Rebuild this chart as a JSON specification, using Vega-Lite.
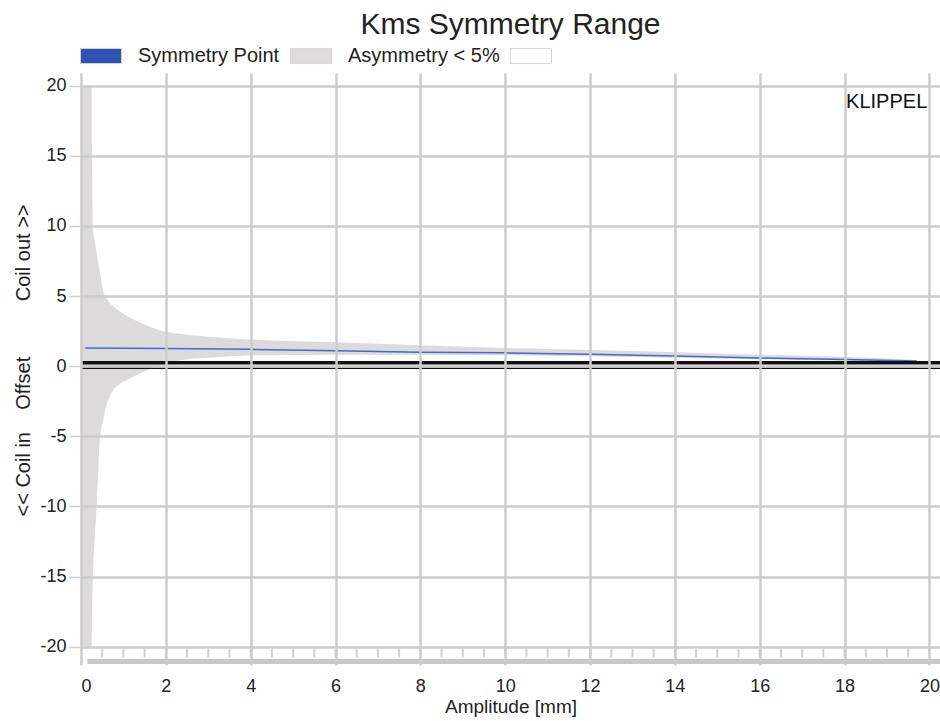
{
  "$schema": "https://vega.github.io/schema/vega-lite/v6.json",
  "width": 859,
  "height": 592,
  "autosize": {"type": "none"},
  "padding": {"left": 81, "top": 73, "right": 0, "bottom": 56},
  "background": "white",
  "config": {
    "font": "Liberation Sans",
    "view": {"stroke": null},
    "axis": {"labelFont": "Liberation Sans", "titleFont": "Liberation Sans"}
  },
  "title": {
    "text": "Kms Symmetry Range",
    "fontSize": 30,
    "fontWeight": "normal",
    "color": "#222222",
    "font": "Liberation Sans",
    "anchor": "middle",
    "offset": -5
  },
  "datasets": {
    "band": [
      {"x": 0.03, "hi": 20, "lo": -20},
      {"x": 0.25, "hi": 20, "lo": -20},
      {"x": 0.26, "hi": 15, "lo": -17.5},
      {"x": 0.28, "hi": 10, "lo": -15},
      {"x": 0.32, "hi": 9, "lo": -12.5},
      {"x": 0.37, "hi": 8, "lo": -10},
      {"x": 0.45, "hi": 6.6, "lo": -5},
      {"x": 0.52, "hi": 5.4, "lo": -3.9},
      {"x": 0.6, "hi": 4.85, "lo": -2.8},
      {"x": 0.75, "hi": 4.3, "lo": -1.75},
      {"x": 0.92, "hi": 3.9, "lo": -1.25},
      {"x": 1.1, "hi": 3.55, "lo": -0.95},
      {"x": 1.4, "hi": 3.1, "lo": -0.5},
      {"x": 1.7, "hi": 2.72, "lo": -0.12},
      {"x": 2.0, "hi": 2.45, "lo": 0.2},
      {"x": 2.5, "hi": 2.25, "lo": 0.5},
      {"x": 3.0, "hi": 2.1, "lo": 0.6},
      {"x": 4.2, "hi": 1.86, "lo": 0.78},
      {"x": 6, "hi": 1.7, "lo": 0.82},
      {"x": 8, "hi": 1.5, "lo": 0.82},
      {"x": 10, "hi": 1.3, "lo": 0.78},
      {"x": 12, "hi": 1.15, "lo": 0.7},
      {"x": 14, "hi": 1.0, "lo": 0.6},
      {"x": 16, "hi": 0.82, "lo": 0.5},
      {"x": 18, "hi": 0.65, "lo": 0.4},
      {"x": 19.7, "hi": 0.45, "lo": 0.3}
    ],
    "sym": [
      {"x": 0.1, "y": 1.3},
      {"x": 2, "y": 1.27},
      {"x": 4, "y": 1.2},
      {"x": 6, "y": 1.1},
      {"x": 8, "y": 1.0},
      {"x": 10, "y": 0.95},
      {"x": 12, "y": 0.85},
      {"x": 14, "y": 0.72},
      {"x": 16, "y": 0.58},
      {"x": 18, "y": 0.48},
      {"x": 19.7, "y": 0.37}
    ],
    "zero": [
      {"x0": 0, "x1": 20.25, "y": 0.25, "w": "thick"},
      {"x0": 0, "x1": 20.25, "y": -0.14, "w": "thin"}
    ],
    "strip": [
      {"x": 0.5}, {"x": 1}, {"x": 1.5}, {"x": 2}, {"x": 2.5}, {"x": 3}, {"x": 3.5}, {"x": 4},
      {"x": 4.5}, {"x": 5}, {"x": 5.5}, {"x": 6}, {"x": 6.5}, {"x": 7}, {"x": 7.5}, {"x": 8},
      {"x": 8.5}, {"x": 9}, {"x": 9.5}, {"x": 10}, {"x": 10.5}, {"x": 11}, {"x": 11.5}, {"x": 12},
      {"x": 12.5}, {"x": 13}, {"x": 13.5}, {"x": 14}, {"x": 14.5}, {"x": 15}, {"x": 15.5}, {"x": 16},
      {"x": 16.5}, {"x": 17}, {"x": 17.5}, {"x": 18}, {"x": 18.5}, {"x": 19}, {"x": 19.5}, {"x": 20}
    ],
    "bar": [{"x0": 0.15, "x1": 20.25, "y": -21.05}],
    "brand": [{"x": 19.95, "y": 18.8, "label": "KLIPPEL"}]
  },
  "layer": [
    {
      "data": {"name": "band"},
      "mark": {"type": "area", "opacity": 1, "interpolate": "monotone"},
      "encoding": {
        "x": {
          "field": "x", "type": "quantitative",
          "scale": {"domain": [0, 20.25], "nice": false, "zero": false},
          "axis": {
            "values": [0, 2, 4, 6, 8, 10, 12, 14, 16, 18, 20],
            "grid": true, "gridColor": "#cccccc", "gridWidth": 2.5,
            "domain": false, "ticks": false, "tickSize": 0,
            "labelFontSize": 18, "labelColor": "#222222", "labelPadding": 12,
            "labelExpr": "toString(datum.value)",
            "title": "Amplitude [mm]", "titleFontSize": 19, "titleFontWeight": "normal",
            "titleColor": "#222222", "titlePadding": 2, "zindex": 1
          }
        },
        "y": {
          "field": "hi", "type": "quantitative",
          "scale": {"domain": [-21.3, 20.9], "nice": false, "zero": false},
          "axis": {
            "values": [-20, -15, -10, -5, 0, 5, 10, 15, 20],
            "grid": true, "gridColor": "#cccccc", "gridWidth": 2.5,
            "domain": false, "ticks": true, "tickColor": "#cccccc", "tickSize": 12, "tickWidth": 1.5,
            "labelFontSize": 18, "labelColor": "#222222", "labelPadding": 3,
            "labelExpr": "toString(datum.value)",
            "title": "<< Coil in\u00a0\u00a0\u00a0\u00a0Offset\u00a0\u00a0\u00a0\u00a0\u00a0\u00a0\u00a0\u00a0\u00a0\u00a0Coil out >>",
            "titleFontSize": 20, "titleFontWeight": "normal", "titleColor": "#222222",
            "titlePadding": 5, "titleY": 287, "titleX": -58, "titleAngle": 270,
            "titleAlign": "center", "titleBaseline": "middle", "zindex": 1
          }
        },
        "y2": {"field": "lo"},
        "fill": {
          "datum": "Asymmetry < 5%",
          "type": "nominal",
          "scale": {
            "domain": ["Symmetry Point", "Asymmetry < 5%", " "],
            "range": ["#2f52b4", "#dcdada", "#ffffff"]
          },
          "legend": {
            "title": null,
            "orient": "none",
            "direction": "horizontal",
            "legendX": -1,
            "legendY": -38,
            "padding": 0,
            "symbolType": "M-1,-0.37H1V0.37H-1Z",
            "symbolSize": 1681,
            "symbolStrokeColor": "#d6d6d6",
            "symbolStrokeWidth": 1,
            "symbolOpacity": 1,
            "labelFontSize": 20,
            "labelColor": "#222222",
            "labelFont": "Liberation Sans",
            "labelOffset": 16,
            "columnPadding": 8,
            "labelLimit": 300
          }
        }
      }
    },
    {
      "data": {"name": "sym"},
      "mark": {"type": "line", "color": "#4a68cc", "strokeWidth": 1.5},
      "encoding": {
        "x": {"field": "x", "type": "quantitative"},
        "y": {"field": "y", "type": "quantitative"}
      }
    },
    {
      "data": {"name": "zero"},
      "mark": {"type": "rule", "color": "#111111"},
      "encoding": {
        "x": {"field": "x0", "type": "quantitative"},
        "x2": {"field": "x1"},
        "y": {"field": "y", "type": "quantitative"},
        "strokeWidth": {
          "field": "w", "type": "nominal",
          "scale": {"domain": ["thick", "thin"], "range": [3.5, 1.5]},
          "legend": null
        }
      }
    },
    {
      "data": {"name": "strip"},
      "mark": {"type": "rule", "color": "#d2d2d2", "strokeWidth": 2},
      "encoding": {
        "x": {"field": "x", "type": "quantitative"},
        "y": {"datum": -20},
        "y2": {"datum": -20.75}
      }
    },
    {
      "data": {"name": "bar"},
      "mark": {"type": "rule", "color": "#c8c8c8", "strokeWidth": 5},
      "encoding": {
        "x": {"field": "x0", "type": "quantitative"},
        "x2": {"field": "x1"},
        "y": {"field": "y", "type": "quantitative"}
      }
    },
    {
      "data": {"name": "brand"},
      "mark": {"type": "text", "align": "right", "baseline": "middle", "fontSize": 20, "color": "#111111", "font": "Liberation Sans"},
      "encoding": {
        "x": {"field": "x", "type": "quantitative"},
        "y": {"field": "y", "type": "quantitative"},
        "text": {"field": "label"}
      }
    }
  ]
}
